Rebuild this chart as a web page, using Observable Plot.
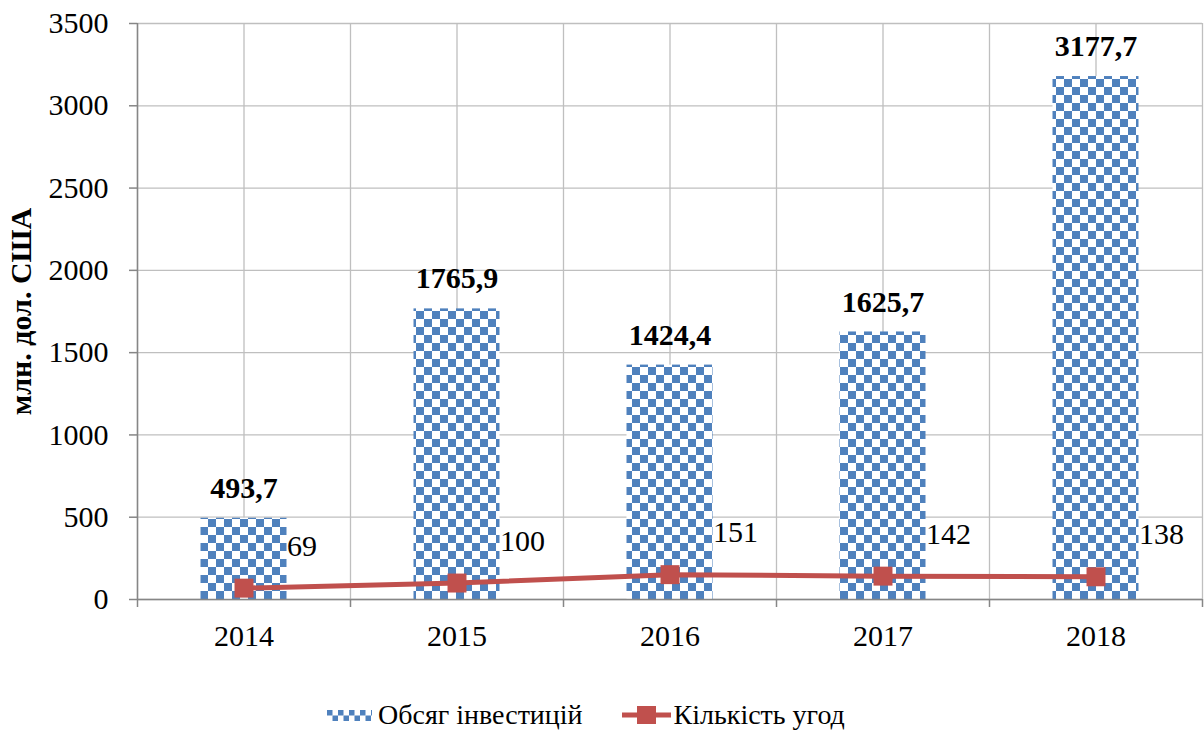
<!DOCTYPE html>
<html>
<head>
<meta charset="utf-8">
<script src="https://cdn.jsdelivr.net/npm/d3@7"></script>
<script src="https://cdn.jsdelivr.net/npm/@observablehq/plot@0.6"></script>
<style>
  html, body { margin: 0; padding: 0; background: #fff; }
  #chart svg { display: block; }
  #chart g[aria-label="y-axis label"] text { font-weight: bold; font-size: 30px; }
  .legend { display: flex; justify-content: flex-start; align-items: center; margin-top: 20px; padding-left: 327px;
    font-family: "Liberation Serif", "Times New Roman", serif; font-size: 28px; color: #000; height: 30px; }
  .legend .item { display: flex; align-items: center; }
  .legend .item + .item { margin-left: 39px; }
  .legend svg { display: block; }
</style>
</head>
<body>
<div id="chart"></div>
<div class="legend">
  <div class="item">
    <svg width="45" height="11" style="margin-right:6px">
      <defs>
        <pattern id="chkLeg" width="11" height="11" patternUnits="userSpaceOnUse">
          <rect width="11" height="11" fill="#fff"></rect>
          <rect width="5.5" height="5.5" fill="#4F81BD"></rect>
          <rect x="5.5" y="5.5" width="5.5" height="5.5" fill="#4F81BD"></rect>
        </pattern>
      </defs>
      <rect width="45" height="11" fill="url(#chkLeg)"></rect>
    </svg>
    <span>Обсяг інвестицій</span>
  </div>
  <div class="item">
    <svg width="49" height="22" style="margin-right:3px">
      <line x1="0" y1="11" x2="49" y2="11" stroke="#C0504D" stroke-width="5"></line>
      <rect x="15" y="2" width="19" height="18" fill="#C0504D"></rect>
    </svg>
    <span>Кількість угод</span>
  </div>
</div>
<script>
const years = ["2014", "2015", "2016", "2017", "2018"];
const investment = [493.7, 1765.9, 1424.4, 1625.7, 3177.7];
const deals = [69, 100, 151, 142, 138];
const yTicks = [0, 500, 1000, 1500, 2000, 2500, 3000, 3500];

const data = years.map((year, i) => ({ year, inv: investment[i], deals: deals[i] }));

const W = 1204, H = 680, ML = 137, MR = 2, MT = 23, MB = 81;
const band = (W - ML - MR) / years.length;
const frameH = H - MT - MB;
const blue = "#4F81BD", red = "#C0504D", grid = "#BFBFBF", axisCol = "#868686";

const defs = () => {
  const d = d3.create("svg:defs");
  const p = d.append("pattern").attr("id", "chk").attr("width", 16).attr("height", 16)
    .attr("patternUnits", "userSpaceOnUse").attr("x", 0).attr("y", 7);
  p.append("rect").attr("width", 16).attr("height", 16).attr("fill", "#fff");
  p.append("rect").attr("width", 8).attr("height", 8).attr("fill", blue);
  p.append("rect").attr("x", 8).attr("y", 8).attr("width", 8).attr("height", 8).attr("fill", blue);
  return d.node();
};

const chart = Plot.plot({
  width: W, height: H,
  marginLeft: ML, marginRight: MR, marginTop: MT, marginBottom: MB,
  style: { fontFamily: "'Liberation Serif', 'Times New Roman', serif", fontSize: "30px", background: "#fff", color: "#000" },
  x: { domain: years, padding: 0, axis: null },
  y: { domain: [0, 3500], axis: null },
  marks: [
    defs,
    Plot.gridY(yTicks, { stroke: grid, strokeOpacity: 1, strokeWidth: 1.3 }),
    Plot.ruleX(years, { x: d => d, stroke: grid, strokeWidth: 1.3 }),
    Plot.ruleX(years, { x: d => d, dx: -band / 2, stroke: grid, strokeWidth: 1.3 }),
    Plot.ruleX([years[years.length - 1]], { x: d => d, dx: band / 2, stroke: grid, strokeWidth: 1.3 }),
    Plot.barY(data, { x: "year", y: "inv", fill: "url(#chk)", insetLeft: 63.5, insetRight: 63.5 }),
    Plot.ruleY([0], { stroke: axisCol, strokeWidth: 1.5 }),
    Plot.ruleX([years[0]], { x: d => d, dx: -band / 2, stroke: axisCol, strokeWidth: 1.5 }),
    Plot.ruleX(years, { x: d => d, dx: -band / 2, stroke: axisCol, strokeWidth: 1.5, insetTop: frameH, insetBottom: -8 }),
    Plot.ruleX([years[years.length - 1]], { x: d => d, dx: band / 2, stroke: axisCol, strokeWidth: 1.5, insetTop: frameH, insetBottom: -8 }),
    Plot.line(data, { x: "year", y: "deals", stroke: red, strokeWidth: 5 }),
    Plot.dot(data, { x: "year", y: "deals", symbol: "square", r: 10.7, fill: red, stroke: null }),
    Plot.text(data, { x: "year", y: "deals", text: d => String(d.deals), dx: 43, dy: -42, textAnchor: "start", fontSize: 30 }),
    Plot.text(data, { x: "year", y: "inv", text: d => d.inv.toFixed(1).replace(".", ","), dy: -30, fontWeight: "bold", fontSize: 30 }),
    Plot.axisX({ tickSize: 0, tickPadding: 25, fontSize: 30, label: null }),
    Plot.axisY({ ticks: yTicks, tickSize: 8, tickPadding: 21, fontSize: 30, stroke: axisCol, strokeWidth: 1.5,
      tickFormat: d => String(d), label: "млн. дол. США", labelAnchor: "center", labelArrow: "none", labelOffset: 128 })
  ]
});
document.getElementById("chart").appendChild(chart);
</script>
</body>
</html>
